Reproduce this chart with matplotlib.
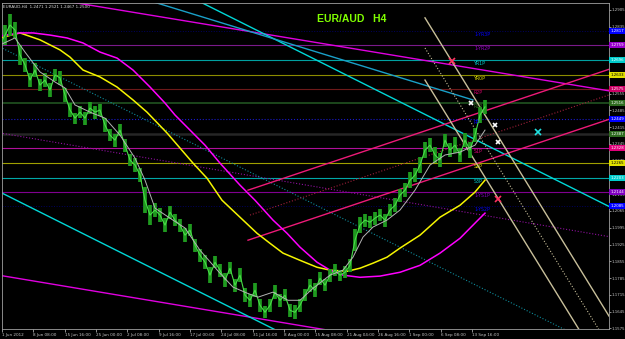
import numpy as np
import matplotlib.pyplot as plt

# ====== Data (x = bar index, about one pixel per H4 bar) ======
close = [1.2759, 1.2800, 1.2842, 1.2821, 1.2717, 1.2675, 1.2612, 1.2654, 1.2591, 1.2612,
         1.2570, 1.2633, 1.2621, 1.2550, 1.2487, 1.2453, 1.2478, 1.2453, 1.2495, 1.2478,
         1.2487, 1.2424, 1.2382, 1.2361, 1.2403, 1.2340, 1.2278, 1.2257, 1.2215, 1.2110,
         1.2048, 1.2069, 1.2048, 1.2006, 1.2060, 1.2027, 1.2006, 1.1964, 1.1985, 1.1922,
         1.1880, 1.1851, 1.1797, 1.1851, 1.1818, 1.1776, 1.1826, 1.1755, 1.1797, 1.1713,
         1.1692, 1.1734, 1.1671, 1.1642, 1.1671, 1.1726, 1.1692, 1.1713, 1.1650, 1.1642,
         1.1671, 1.1713, 1.1755, 1.1734, 1.1784, 1.1755, 1.1797, 1.1818, 1.1797, 1.1809,
         1.1838, 1.1943, 1.2006, 1.2027, 1.2018, 1.2035, 1.2048, 1.2027, 1.2069, 1.2089,
         1.2131, 1.2152, 1.2194, 1.2215, 1.2257, 1.2320, 1.2340, 1.2299, 1.2278, 1.2361,
         1.2320, 1.2340, 1.2299, 1.2361, 1.2320, 1.2382, 1.2466, 1.2500]
# high-low range of each 5-bar slice, in pips
bar_range = [70, 80, 90, 70, 80, 60, 55, 60, 50, 55,
             60, 50, 55, 60, 55, 45, 50, 55, 50, 55,
             50, 55, 50, 55, 50, 55, 50, 55, 60, 110,
             80, 60, 55, 60, 55, 50, 55, 60, 50, 55,
             55, 60, 65, 50, 55, 60, 50, 55, 60, 60,
             55, 60, 55, 50, 55, 60, 55, 50, 55, 60,
             55, 50, 55, 60, 55, 50, 55, 50, 45, 50,
             55, 90, 70, 55, 50, 55, 50, 55, 50, 60,
             55, 60, 65, 60, 70, 65, 60, 65, 60, 55,
             60, 65, 60, 60, 70, 60, 70, 60]
close_x = np.arange(0, 5 * len(close), 5)

gray_x = [0, 15, 25, 40, 55, 65, 75, 90, 105, 120, 135, 145, 155, 170, 185, 200, 220, 233, 247,
          258, 273, 288, 300, 313, 330, 343, 353, 363, 373, 387, 400, 415, 430, 445, 460, 475, 485]
gray_ma = [1.2759, 1.2788, 1.2729, 1.2646, 1.2604, 1.2579, 1.2508, 1.2478, 1.2453, 1.2382,
           1.2286, 1.2194, 1.2077, 1.2035, 1.1994, 1.1901, 1.1805, 1.1747, 1.1722, 1.1705,
           1.1726, 1.1692, 1.1692, 1.1742, 1.1797, 1.1818, 1.1872, 1.1956, 1.1998, 1.2027,
           1.2069, 1.2152, 1.2257, 1.2299, 1.2311, 1.2340, 1.2403]

yellow_x = [0, 20, 40, 60, 70, 83, 100, 117, 133, 147, 167, 180, 193, 207, 222, 240, 257, 270,
            283, 300, 317, 330, 347, 360, 373, 387, 400, 420, 440, 460, 475, 485]
yellow_ma = [1.2788, 1.2809, 1.2780, 1.2738, 1.2708, 1.2654, 1.2625, 1.2583, 1.2529, 1.2478,
             1.2391, 1.2328, 1.2265, 1.2202, 1.2110, 1.2039, 1.1972, 1.1930, 1.1889, 1.1859,
             1.1830, 1.1818, 1.1813, 1.1826, 1.1847, 1.1872, 1.1910, 1.1964, 1.2039, 1.2089,
             1.2144, 1.2194]

magenta_x = [0, 20, 33, 50, 67, 83, 100, 117, 133, 150, 165, 175, 190, 205, 220, 240, 255, 273,
             287, 300, 317, 330, 343, 360, 380, 400, 420, 440, 460, 478, 485]
magenta_ma = [1.2796, 1.2809, 1.2809, 1.2800, 1.2788, 1.2767, 1.2729, 1.2704, 1.2654, 1.2583,
              1.2516, 1.2466, 1.2403, 1.2340, 1.2265, 1.2173, 1.2110, 1.2027, 1.1972, 1.1914,
              1.1851, 1.1818, 1.1797, 1.1788, 1.1793, 1.1809, 1.1838, 1.1889, 1.1951, 1.2027,
              1.2056]

# horizontal levels (pivot lines) with their axis label colours
level_price = [1.2817, 1.2759, 1.2696, 1.2633, 1.2575, 1.2516, 1.2449,
               1.2387, 1.2328, 1.2265, 1.2203, 1.2144, 1.2085]
level_color = ['#000060', '#7a1a8a', '#00a0a0', '#8c8c00', '#6e1a1a', '#1f4d1f', '#1a1acc',
               '#262626', '#b0109a', '#a0a000', '#00a8a8', '#800090', '#000060']
level_style = [':', '-', '-', '-', '-', '-', ':', '-', '-', '-', '-', '-', ':']
level_width = [0.7, 0.8, 0.8, 0.8, 0.8, 1.3, 0.8, 1.8, 0.8, 0.8, 0.8, 0.8, 0.7]
box_color = ['#0000ff', '#9900cc', '#00cccc', '#e0e000', '#cc0066', '#2e6b1f', '#0000ff',
             '#2e6b1f', '#e0007a', '#e0e000', '#00cccc', '#8000c0', '#0000ff']
box_text = ['white', 'white', 'white', 'black', 'white', 'white', 'white',
            'white', 'white', 'black', 'white', 'white', 'white']
level_tag = ['1-YR3P', '1-YR2P', 'YR1P', 'YR0P', 'R2P', 'R1P', 'PP',
             '', 'S1P', 'S2P', 'S3P', '1-YS1P', '1-YS2P']

# trend lines: start (bar, price), end (bar, price)
tl_x0 = [0, 0, 0, 0, 0, 0, 100, 248, 248, 250, 425, 425, 425]
tl_p0 = [1.2987, 1.1796, 1.2391, 1.3357, 1.2750, 1.2144, 1.3007, 1.2152, 1.1943, 1.2048,
         1.2872, 1.2746, 1.2612]
tl_x1 = [609, 609, 609, 609, 609, 609, 473, 609, 609, 609, 609, 609, 609]
tl_p1 = [1.2567, 1.1371, 1.1958, 1.2084, 1.1477, 1.0871, 1.2529, 1.2657, 1.2448, 1.2550,
         1.1626, 1.1501, 1.1367]
tl_color = ['#e000e0', '#e000e0', '#9010a0', '#00d8d8', '#0e8c9c', '#00d8d8', '#1aa0c8',
            '#ee1a78', '#ee1a78', '#a0203a', '#c8bf9a', '#c8bf9a', '#c8bf9a']
tl_style = ['-', '-', ':', '-', ':', '-', '-', '-', '-', ':', '-', ':', '-']

# markers (x crosses)
mark_x = [452, 471, 495, 498, 538, 498]
mark_p = [1.2692, 1.2516, 1.2424, 1.2353, 1.2395, 1.2115]
mark_color = ['#ff3060', 'white', 'white', 'white', '#20e0e0', '#ff3060']
mark_size = [5, 3, 3, 3, 5, 5]

date_pos = [2, 33, 65, 96, 127, 159, 190, 221, 253, 284, 315, 347, 378, 409, 441, 472]
date_labels = ['1 Jun 2012', '8 Jun 08:00', '15 Jun 16:00', '25 Jun 00:00', '2 Jul 08:00',
               '9 Jul 16:00', '17 Jul 00:00', '24 Jul 08:00', '31 Jul 16:00', '8 Aug 00:00',
               '15 Aug 08:00', '21 Aug 04:00', '26 Aug 16:00', '1 Sep 00:00', '6 Sep 08:00',
               '13 Sep 16:00']
price_ticks = np.arange(1.1575, 1.2906, 0.007)

# ===== Plot =====
fig = plt.figure(figsize=(6.25, 3.39), dpi=100, facecolor='black')
ax = fig.add_axes([2 / 625, 10 / 339, 607 / 625, 326 / 339], facecolor='black')

for p, c, ls, lw in zip(level_price, level_color, level_style, level_width):
    ax.axhline(p, color=c, ls=ls, lw=lw, zorder=1)

for x0, p0, x1, p1, c, ls in zip(tl_x0, tl_p0, tl_x1, tl_p1, tl_color, tl_style):
    ax.plot([x0, x1], [p0, p1], color=c, ls=ls, lw=1.0 if ls == '-' else 0.8, zorder=2)

ax.plot(yellow_x, yellow_ma, color='#f5f500', lw=1.1, zorder=3)
ax.plot(magenta_x, magenta_ma, color='#ff00ff', lw=1.1, zorder=3)

# price bars
cl = np.array(close)
half = np.array(bar_range) / 20000.0
ax.vlines(close_x, cl - half, cl + half, color='#1f9a1f', lw=2.7, zorder=4)
ax.plot(close_x, cl, color='#48dc48', lw=0.8, zorder=4)
ax.plot(gray_x, gray_ma, color='#b4b4b4', lw=0.7, zorder=5)

for x, p, c, s in zip(mark_x, mark_p, mark_color, mark_size):
    ax.plot(x, p, marker='x', color=c, ms=s, mew=1.2, zorder=6)

for p, c, t in zip(level_price, box_color, level_tag):
    if t:
        ax.text(474, p - 0.0003, t, color=c, fontsize=3.4, va='top', ha='left', zorder=6)

ax.set_xlim(2, 609)
ax.set_ylim(1.1572, 1.2934)

ax.set_xticks(date_pos)
ax.set_xticklabels(date_labels, ha='left')
ax.yaxis.tick_right()
ax.set_yticks(price_ticks)
ax.set_yticklabels([f'{v:.4f}' for v in price_ticks])
ax.tick_params(axis='x', colors='#c8c8c8', labelsize=3.0, length=2, width=0.5, pad=1)
ax.tick_params(axis='y', colors='#c8c8c8', labelsize=2.8, length=1.5, width=0.5, pad=0.5)
for side in ['left', 'top', 'right', 'bottom']:
    ax.spines[side].set_color('#a0a0a0')
    ax.spines[side].set_linewidth(0.6)

# coloured price boxes on the right axis
for p, c, tc in zip(level_price, box_color, box_text):
    ax.text(1.002, p, f'{p:.4f}', transform=ax.get_yaxis_transform(), color=tc, fontsize=2.8,
            ha='left', va='center', clip_on=False, zorder=7,
            bbox=dict(boxstyle='square,pad=0.25', fc=c, ec='none'))

ax.text(0.002, 0.995, 'EURAUD,H4  1.2471 1.2521 1.2467 1.2500', transform=ax.transAxes,
        color='#d8d8d8', fontsize=3.0, va='top', ha='left')
fig.text(317 / 625, 1 - 19 / 339, 'EUR/AUD   H4', color='#80ff00', fontsize=7.5,
         fontweight='bold', family='Liberation Sans', va='center', ha='left')

fig.savefig('out.png', dpi=100, facecolor='black')
